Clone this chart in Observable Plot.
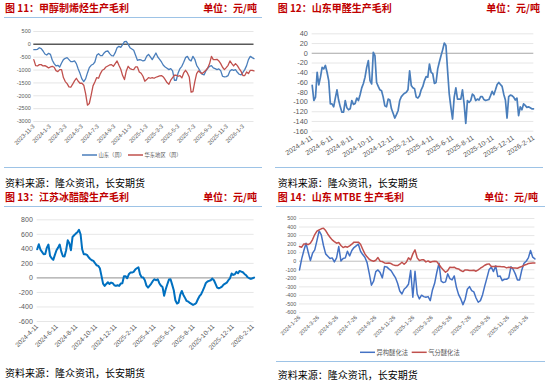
<!DOCTYPE html>
<html><head><meta charset="utf-8">
<script src="https://cdn.jsdelivr.net/npm/d3@7"></script>
<script src="https://cdn.jsdelivr.net/npm/@observablehq/plot@0.6"></script>
<style>
body{margin:0;background:#fff;}
#root{position:relative;width:550px;height:383px;overflow:hidden;background:#fff;font-family:"Noto Sans CJK SC","Noto Sans",sans-serif;}
.panel{position:absolute;}
.panel svg{display:block;overflow:visible;}
.title{position:absolute;color:#c00000;font-weight:bold;font-size:10px;line-height:12px;white-space:nowrap;}
.unit{position:absolute;color:#c00000;font-weight:bold;font-size:10px;line-height:12px;white-space:nowrap;text-align:right;}
.rule{position:absolute;height:0;border-top:1.4px solid #9dc3e6;}
.src{position:absolute;font-size:10px;line-height:12px;color:#000;white-space:nowrap;}
#overlay{position:absolute;left:0;top:0;}
</style></head>
<body><div id="root"></div>
<script>
// ---------- data ----------
const p1Start = "2023-11-3";   // weekly
const p1Shandong = [-207,-207,-194,-130,-168,-258,-375,-413,-349,-388,
-620,-749,-840,-814,-879,-724,-594,-543,-517,-594,
-672,-672,-646,-749,-956,-1137,-1344,-1447,-1344,-1111,
-904,-814,-775,-685,-426,-362,-439,-439,-336,-271,
-258,-362,-439,-452,-323,-129,-78,-116,-13,103,
116,0,-129,-181,-232,-426,-620,-594,-607,-646,
-620,-465,-388,-491,-594,-465,-336,-491,-581,-685,
-814,-879,-930,-982,-943,-1034,-1395,-1395,-1111,-943,
-853,-698,-517,-465,-594,-646,-465,-581,-814,-930,
-1059,-1163,-1189,-1034,-930,-853,-827,-917,-943,-982,
-956,-1021,-1240,-1266,-1253,-1214,-1034,-982,-1008,-982,
-1085,-1163,-1189,-1085,-982,-827,-594,-465,-517,-556];
const p1EastChina = [-594,-827,-840,-788,-788,-840,-827,-866,-917,-879,
-853,-891,-1021,-1059,-982,-982,-1292,-1447,-1525,-1654,
-1667,-1550,-1421,-1318,-1434,-1512,-1512,-1589,-1912,-2364,
-2300,-1977,-1615,-1460,-1292,-1318,-1137,-1008,-969,-879,
-840,-801,-788,-853,-749,-646,-814,-969,-1214,-1370,
-1034,-853,-943,-969,-982,-879,-879,-1072,-1124,-1240,
-1434,-1370,-1292,-1318,-1292,-1318,-1279,-1253,-1227,-1214,
-1266,-1370,-1486,-1550,-1395,-1292,-1202,-1202,-1240,-1214,
-1305,-1111,-1008,-1111,-1266,-1860,-1835,-1460,-1137,-1034,
-1098,-1137,-1072,-1008,-917,-749,-465,-594,-594,-581,
-646,-749,-891,-982,-904,-814,-646,-749,-840,-749,
-827,-943,-1046,-1214,-1214,-1072,-1137,-1008,-1008,-1034];
const p1YTicks = [500,0,-500,-1000,-1500,-2000,-2500,-3000];
const p1XTicks = ["2023-11-3","2024-1-3","2024-3-3","2024-5-3","2024-7-3","2024-9-3","2024-11-3","2025-1-3","2025-3-3","2025-5-3","2025-7-3","2025-9-3","2025-11-3","2026-1-3"];
const p1Names = ["山东（周）","华东地区（周）"];

const p2Start = "2024-4-11";   // every 5 days
const p2Formaldehyde = [-66,-97,-90,-39,-65,-49,-29,-32,-25,-39,
-56,-104,-104,-110,-92,-75,-96,-110,-121,-121,
-97,-112,-116,-114,-97,-105,-103,-92,-97,-85,
-71,-62,-49,-29,-15,-56,-63,2,-5,-60,
-68,-75,-77,-90,-108,-110,-94,-96,-114,-123,
-133,-126,-118,-97,-89,-85,-82,-80,-75,-36,
-66,-71,-73,-90,-92,-87,-75,-68,-56,-48,
-49,-22,-39,-42,-62,-60,-32,-18,-5,7,
21,16,-36,-84,-111,-135,-90,-71,-94,-94,
-94,-75,-104,-144,-97,-101,-97,-84,-87,-97,
-94,-96,-89,-89,-95,-97,-96,-95,-87,-78,
-85,-75,-64,-60,-64,-68,-84,-96,-133,-89,
-86,-87,-90,-96,-92,-128,-110,-116,-104,-107,
-111,-110,-112,-114,-114];
const p2YTicks = [40,20,0,-20,-40,-60,-80,-100,-120,-140,-160];
const p2XTicks = ["2024-4-11","2024-6-11","2024-8-11","2024-10-11","2024-12-11","2025-2-11","2025-4-11","2025-6-11","2025-8-11","2025-10-11","2025-12-11","2026-2-11"];

const p3Start = "2024-4-11";   // every 5 days
const p3AceticAcid = [394,463,390,358,326,330,417,459,303,271,
248,317,381,417,459,362,298,294,381,518,
477,381,564,587,610,628,661,601,394,326,
326,317,284,261,243,234,202,174,165,133,
28,-78,-110,-83,-60,-83,-64,-73,-101,-110,
-101,-110,-78,-73,23,23,-5,50,73,73,
83,115,133,147,50,9,5,-32,-106,-133,
-106,-78,-41,-18,-32,-18,-73,-106,-124,-245,
-156,-87,-23,-18,-92,-170,-307,-353,-339,-234,
-179,-234,-275,-317,-326,-344,-358,-372,-362,-344,
-294,-252,-225,-179,-128,-69,-50,-41,-32,-9,
-32,-83,-133,-142,-133,-119,-92,-78,-64,-32,
-5,60,41,50,83,64,96,87,78,55,
37,9,-5,-14,-5,5];
const p3YTicks = [800,600,400,200,0,-200,-400,-600];
const p3XTicks = p2XTicks;

const p4Start = "2024-1-26";   // weekly
const p4Isomer = [-102,27,125,211,105,8,94,133,242,355,
309,184,86,59,31,39,-8,39,172,4,
31,39,117,62,125,160,180,199,117,78,
47,-16,-141,-281,-234,-121,-102,-133,-195,-62,
-66,-90,-109,-152,-191,-258,-348,-383,-328,-305,
-270,-109,-422,-117,-383,-441,-398,-414,-422,-414,
-461,-336,-258,-129,-23,-234,-250,-242,-148,-203,
-219,-172,-305,-391,-441,-508,-445,-328,-297,-344,
-359,-430,-480,-461,-391,-289,-195,-98,-70,-121,
-55,-180,-172,-227,-211,-211,-195,-66,-94,-148,
-219,-219,-102,-23,0,39,125,47,27];
const p4GasSep = [172,164,203,203,195,211,254,312,352,367,
379,387,359,316,281,250,230,211,219,184,
160,172,164,180,199,223,223,223,199,141,
86,51,23,8,0,12,43,0,-4,-20,
-23,-20,-27,-43,-51,-51,-35,-12,-35,-12,
39,16,86,133,39,8,16,16,-8,4,
-12,-4,0,-4,-39,-74,-102,-129,-109,-70,
-74,-70,-86,-90,-109,-121,-102,-102,-109,-109,
-105,-117,-102,-82,-66,-47,-35,-31,-62,-62,
-59,-62,-62,-66,-66,-78,-70,-74,-78,-78,
-82,-70,-62,-47,-39,-27,-23,-20,-20];
const p4YTicks = [500,400,300,200,100,0,-100,-200,-300,-400,-500,-600];
const p4XTicks = ["2024-1-26","2024-3-26","2024-5-26","2024-7-26","2024-9-26","2024-11-26","2025-1-26","2025-3-26","2025-5-26","2025-7-26","2025-9-26","2025-11-26","2026-1-26"];
const p4Names = ["异构醚化法","气分醚化法"];

const titles = ["图 11：甲醇制烯烃生产毛利","图 12：山东甲醛生产毛利","图 13：江苏冰醋酸生产毛利","图 14：山东 MTBE 生产毛利"];
const unitText = "单位：元/吨";
const sourceText = "资料来源：隆众资讯，长安期货";

// ---------- helpers ----------
const parseD = s => { const [y,m,d] = s.split("-").map(Number); return new Date(Date.UTC(y, m-1, d)); };
const seq = (start, step, n) => { const t0 = parseD(start).getTime(); return Array.from({length:n}, (_, i) => new Date(t0 + i*step*864e5)); };
const fmtD = d => `${d.getUTCFullYear()}-${d.getUTCMonth()+1}-${d.getUTCDate()}`;

const root = document.getElementById("root");
function addDiv(cls, text, css) {
  const el = document.createElement("div");
  el.className = cls; if (text) el.textContent = text;
  Object.assign(el.style, css); root.appendChild(el); return el;
}

function makePanel(o) {
  const marks = [
    Plot.ruleY(o.yTicks.filter(v => v !== 0), {stroke:"#e0e0e0", strokeWidth:0.8}),
    Plot.ruleY([0], {stroke:o.zeroColor, strokeWidth:o.zeroWidth}),
    Plot.axisY(o.yTicks, {anchor:"left", tickSize:0, tickPadding:o.yPad, tickFormat:d => String(d), fontSize:o.yFont, fill:"#595959", label:null}),
    Plot.axisX(o.xTicks.map(parseD), {anchor:"bottom", tickSize:0, tickPadding:o.xPad, tickRotate:o.rot, tickFormat:fmtD, fontSize:o.xFont, fill:"#595959", label:null}),
    ...o.series.map(s => Plot.line(s.values, {x:(d,i) => s.dates[i], y:d => d, stroke:s.color, strokeWidth:s.width}))
  ];
  const svg = Plot.plot({
    width:o.w, height:o.h, marginTop:o.mt, marginBottom:o.mb, marginLeft:o.ml, marginRight:o.mr,
    style:{fontFamily:'"Liberation Sans", Arial, sans-serif', background:"transparent", overflow:"visible"},
    x:{type:"utc", domain:o.xDomain},
    y:{domain:o.yDomain},
    marks
  });
  const wrap = document.createElement("div");
  wrap.className = "panel";
  wrap.style.left = o.left + "px"; wrap.style.top = o.top + "px";
  wrap.appendChild(svg); root.appendChild(wrap);
}

// Panel 1
const p1Dates = seq(p1Start, 7, p1Shandong.length);
makePanel({left:0, top:0, w:275, h:190, mt:31, mb:69, ml:33.3, mr:21.5,
  xDomain:[p1Dates[0], p1Dates[p1Dates.length-1]], yDomain:[-3000,500],
  yTicks:p1YTicks, xTicks:p1XTicks, zeroColor:"#595959", zeroWidth:1.5,
  yFont:5.5, xFont:5.8, rot:-45, xPad:4, yPad:3,
  series:[{values:p1Shandong, dates:p1Dates, color:"#4a7ebb", width:1.3},
          {values:p1EastChina, dates:p1Dates, color:"#c0504d", width:1.3}]});

// Panel 2
const p2Dates = seq(p2Start, 5, p2Formaldehyde.length);
makePanel({left:275, top:0, w:275, h:190, mt:33.3, mb:59.3, ml:36.7, mr:16.7,
  xDomain:[parseD("2024-4-11"), parseD("2026-2-11")], yDomain:[-160,40],
  yTicks:p2YTicks, xTicks:p2XTicks, zeroColor:"#a6a6a6", zeroWidth:1.1,
  yFont:7.3, xFont:6.9, rot:-32, xPad:6, yPad:4.4,
  series:[{values:p2Formaldehyde, dates:p2Dates, color:"#4a7ebb", width:1.7}]});

// Panel 3
const p3Dates = seq(p3Start, 5, p3AceticAcid.length);
makePanel({left:0, top:190, w:275, h:193, mt:29.3, mb:62, ml:36.7, mr:21.4,
  xDomain:[p3Dates[0], p3Dates[p3Dates.length-1]], yDomain:[-600,800],
  yTicks:p3YTicks, xTicks:p3XTicks, zeroColor:"#a6a6a6", zeroWidth:1.3,
  yFont:7, xFont:6.5, rot:-45, xPad:4, yPad:4.4,
  series:[{values:p3AceticAcid, dates:p3Dates, color:"#0070c0", width:2}]});

// Panel 4
const p4Dates = seq(p4Start, 7, p4Isomer.length);
makePanel({left:275, top:190, w:275, h:193, mt:28, mb:71, ml:24, mr:15.6,
  xDomain:[p4Dates[0], p4Dates[p4Dates.length-1]], yDomain:[-600,500],
  yTicks:p4YTicks, xTicks:p4XTicks, zeroColor:"#bfbfbf", zeroWidth:1,
  yFont:5.4, xFont:5.6, rot:-45, xPad:4, yPad:3.3,
  series:[{values:p4Isomer, dates:p4Dates, color:"#4472c4", width:1.5},
          {values:p4GasSep, dates:p4Dates, color:"#c0504d", width:1.5}]});

// titles, units, rules, sources
addDiv("title", titles[0], {left:"5px", top:"1.5px"});
addDiv("title", titles[1], {left:"277.7px", top:"1.5px"});
addDiv("title", titles[2], {left:"5px", top:"191.3px"});
addDiv("title", titles[3], {left:"277.7px", top:"191.3px"});
addDiv("unit", unitText, {right:(550-257)+"px", top:"1.5px"});
addDiv("unit", unitText, {right:(550-540)+"px", top:"1.5px"});
addDiv("unit", unitText, {right:(550-257)+"px", top:"191.3px"});
addDiv("unit", unitText, {right:(550-538)+"px", top:"191.3px"});
addDiv("rule", "", {left:"4px", width:"258px", top:"16.6px"});
addDiv("rule", "", {left:"4px", width:"258px", top:"167px"});
addDiv("rule", "", {left:"275px", width:"268px", top:"167px"});
addDiv("rule", "", {left:"4px", width:"258px", top:"206px"});
addDiv("rule", "", {left:"276px", width:"269px", top:"206px"});
addDiv("rule", "", {left:"276px", width:"269px", top:"361px"});
addDiv("src", sourceText, {left:"5px", top:"176.7px"});
addDiv("src", sourceText, {left:"277.7px", top:"176.7px"});
addDiv("src", sourceText, {left:"5px", top:"367.3px"});
addDiv("src", sourceText, {left:"277.7px", top:"368.5px"});

// legends (small svg overlay)
const ov = d3.select(root).append("svg").attr("id","overlay").attr("width",550).attr("height",383)
  .style("font-family",'"Noto Sans CJK SC", sans-serif');
function legendItem(x, y, color, label, fs) {
  ov.append("line").attr("x1",x).attr("x2",x+15).attr("y1",y).attr("y2",y).attr("stroke",color).attr("stroke-width",1.5);
  ov.append("text").attr("x",x+16.5).attr("y",y).attr("dy","0.35em").attr("font-size",fs).attr("fill","#595959").text(label);
}
legendItem(82, 155, "#4a7ebb", p1Names[0], 5.3);
legendItem(128, 155, "#c0504d", p1Names[1], 5.3);
legendItem(360, 352.3, "#4472c4", p4Names[0], 6.3);
legendItem(411.7, 352.3, "#c0504d", p4Names[1], 6.3);
</script></body></html>
